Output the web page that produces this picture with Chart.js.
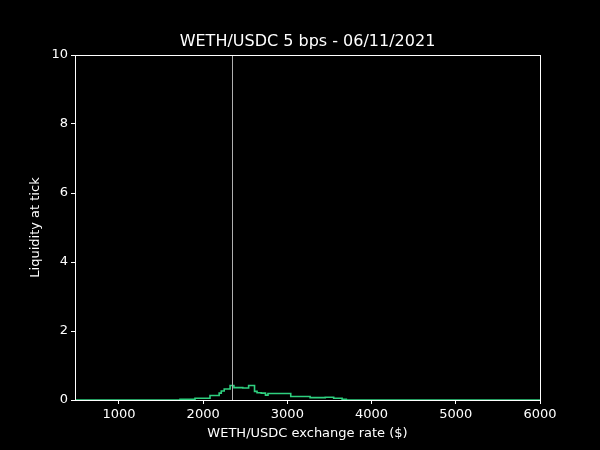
<!DOCTYPE html>
<html>
<head>
<meta charset="utf-8">
<script src="https://cdn.jsdelivr.net/npm/chart.js@4/dist/chart.umd.min.js"></script>
<style>
  html, body { margin: 0; padding: 0; background: #000; }
  #wrap { width: 600px; height: 450px; }
</style>
</head>
<body>
<div id="wrap"><canvas id="c" width="600" height="450"></canvas></div>
<script>
// liquidity per tick (stepped)
const prices = [478, 1600, 1725, 1903, 2081, 2190, 2215, 2250, 2320, 2365, 2470, 2540, 2610, 2640, 2690, 2740, 2770, 3040, 3270, 3450, 3550, 3650, 3700, 6000]
const liquidity = [0, 0, 0.02, 0.05, 0.13, 0.2, 0.26, 0.32, 0.42, 0.36, 0.35, 0.42, 0.25, 0.21, 0.2, 0.14, 0.19, 0.1, 0.07, 0.08, 0.05, 0.02, 0, 0]
const currentPrice = 2340
const xTicks = [1000, 2000, 3000, 4000, 5000, 6000]
const yTicks = [0, 2, 4, 6, 8, 10]

const FONT = 'DejaVu Sans'

const frame = {
  id: 'frame',
  afterDatasetsDraw(chart) {
    const { ctx, chartArea: a, scales } = chart
    ctx.save()
    // current price marker
    const px = Math.round(scales.x.getPixelForValue(currentPrice)) + 0.5
    ctx.strokeStyle = '#b0b0b0'
    ctx.lineWidth = 1
    ctx.beginPath()
    ctx.moveTo(px, a.top)
    ctx.lineTo(px, a.bottom)
    ctx.stroke()
    // spines
    ctx.strokeStyle = '#fff'
    ctx.strokeRect(a.left + 0.5, a.top + 0.5, a.right - a.left, a.bottom - a.top)
    // title + axis labels
    ctx.fillStyle = '#fff'
    ctx.textAlign = 'center'
    ctx.textBaseline = 'alphabetic'
    ctx.font = '16px "' + FONT + '"'
    ctx.fillText('WETH/USDC 5 bps - 06/11/2021', (a.left + a.right) / 2, 46)
    ctx.font = '13px "' + FONT + '"'
    ctx.textBaseline = 'middle'
    ctx.fillText('WETH/USDC exchange rate ($)', (a.left + a.right) / 2, 434)
    ctx.translate(36, (a.top + a.bottom) / 2)
    ctx.rotate(-Math.PI / 2)
    ctx.fillText('Liquidity at tick', 0, 0)
    ctx.restore()
  }
}

new Chart(document.getElementById('c'), {
  type: 'line',
  data: {
    datasets: [{
      data: prices.map((p, i) => ({ x: p, y: liquidity[i] })),
      borderColor: '#2fd07f',
      borderWidth: 1.6,
      pointRadius: 0,
      stepped: true,
      fill: false,
    }]
  },
  options: {
    responsive: false,
    animation: false,
    layout: { padding: { top: 55, right: 60, left: 0, bottom: 0 } },
    plugins: { legend: { display: false }, tooltip: { enabled: false } },
    scales: {
      x: {
        type: 'linear',
        min: 478,
        max: 6000,
        afterBuildTicks: (s) => { s.ticks = xTicks.map(v => ({ value: v })) },
        afterFit: (s) => { s.height = 50 },
        grid: { drawOnChartArea: false, color: '#fff', tickLength: 4 },
        border: { color: '#fff' },
        ticks: { color: '#fff', font: { family: FONT, size: 13 }, padding: 3, maxRotation: 0, callback: (v) => String(v) }
      },
      y: {
        min: 0,
        max: 10,
        afterBuildTicks: (s) => { s.ticks = yTicks.map(v => ({ value: v })) },
        afterFit: (s) => { s.width = 75 },
        grid: { drawOnChartArea: false, color: '#fff', tickLength: 4 },
        border: { color: '#fff' },
        ticks: { color: '#fff', font: { family: FONT, size: 13 }, padding: 3, callback: (v) => String(v) }
      }
    }
  },
  plugins: [frame]
})
</script>
</body>
</html>
